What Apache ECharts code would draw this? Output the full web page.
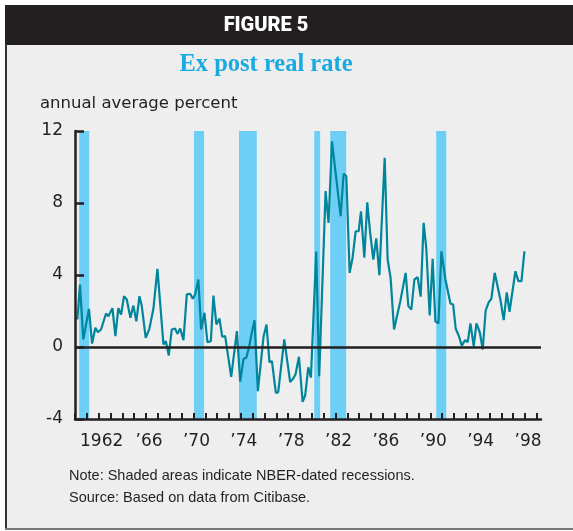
<!DOCTYPE html>
<html>
<head>
<meta charset="utf-8">
<script src="https://cdn.jsdelivr.net/npm/echarts@6/dist/echarts.min.js"></script>
<style>
  html, body { margin: 0; padding: 0; background: #fff; overflow: hidden; }
  #chart { width: 573px; height: 531px; }
</style>
</head>
<body>
<div id="chart"></div>
<script>
// quarterly ex post real rate (year, percent)
var rateYears = [
  1960.2, 1960.42, 1960.7, 1961.18, 1961.44, 1961.72, 1961.94, 1962.2, 1962.62, 1962.82,
  1962.96, 1963.16, 1963.41, 1963.66, 1963.89, 1964.14, 1964.37, 1964.68, 1964.93, 1965.18,
  1965.44, 1965.64, 1965.97, 1966.28, 1966.62, 1966.96, 1967.47, 1967.67, 1967.92, 1968.17,
  1968.45, 1968.65, 1968.88, 1969.16, 1969.44, 1969.72, 1969.95, 1970.14, 1970.42, 1970.65,
  1970.93, 1971.18, 1971.47, 1971.69, 1971.94, 1972.2, 1972.43, 1972.68, 1972.91, 1973.19,
  1973.67, 1973.95, 1974.23, 1974.46, 1974.7, 1974.93, 1975.16, 1975.44, 1975.92, 1976.17,
  1976.42, 1976.63, 1976.96, 1977.16, 1977.67, 1978.17, 1978.4, 1978.62, 1978.91, 1979.22,
  1979.44, 1979.7, 1979.92, 1980.37, 1980.62, 1981.16, 1981.41, 1981.7, 1982.43, 1982.68,
  1982.91, 1983.19, 1983.44, 1983.7, 1983.95, 1984.15, 1984.43, 1984.68, 1984.91, 1985.19,
  1985.44, 1985.7, 1986.15, 1986.4, 1986.65, 1986.94, 1987.47, 1987.92, 1988.15, 1988.4,
  1988.66, 1988.93, 1989.19, 1989.44, 1989.67, 1989.95, 1990.2, 1990.43, 1990.69, 1990.94,
  1991.28, 1991.7, 1991.93, 1992.15, 1992.4, 1992.66, 1992.94, 1993.16, 1993.39, 1993.67,
  1993.9, 1994.18, 1994.43, 1994.68, 1994.94, 1995.16, 1995.44, 1995.92, 1996.2, 1996.46,
  1996.69, 1997.19, 1997.44, 1997.7, 1997.95
];
var rateValues = [
  1.53, 3.47, 0.42, 2.12, 0.19, 1.07, 0.82, 0.97, 1.86, 1.71,
  1.75, 2.16, 0.6, 2.16, 1.8, 2.82, 2.64, 1.62, 2.3, 1.43,
  2.82, 2.27, 0.51, 1.01, 2.12, 4.34, 0.14, 0.32, -0.47, 0.97,
  1.03, 0.73, 1.03, 0.38, 2.92, 2.96, 2.68, 2.92, 3.75, 0.97,
  1.9, 0.27, 0.32, 2.86, 1.25, 1.58, 0.57, 0.6, -0.42, -1.66,
  0.88, -1.92, -0.66, -0.6, 0.0, 0.8, 1.49, -2.45, 0.57, 1.25,
  -0.84, -0.79, -2.55, -2.51, 0.42, -1.95, -1.77, -1.53, -0.54, -3.05,
  -2.68, -1.13, -1.7, 5.3, -1.62, 8.66, 6.9, 11.43, 7.27, 9.62,
  9.49, 4.12, 4.96, 6.43, 6.43, 7.54, 4.96, 8.04, 6.43, 4.86,
  6.03, 3.99, 10.51, 4.86, 3.84, 0.97, 2.54, 4.12, 2.27, 2.08,
  3.75, 3.88, 2.8, 6.9, 5.42, 1.75, 4.9, 1.43, 1.31, 5.32,
  3.75, 2.42, 2.36, 1.01, 0.64, 0.08, 0.38, 0.27, 1.31, 0.04,
  1.31, 0.82, -0.14, 2.04, 2.49, 2.68, 4.12, 2.64, 1.49, 3.04,
  1.96, 4.21, 3.66, 3.66, 5.32
];

// NBER recessions (shaded)
var recessionStarts = [1960.35, 1970.05, 1973.85, 1980.2, 1981.55, 1990.5];
var recessionEnds   = [1961.2, 1970.9, 1975.35, 1980.7, 1982.9, 1991.35];

var yTicks = [-4, 0, 4, 8, 12];
var xLabelYears = [1962, 1966, 1970, 1974, 1978, 1982, 1986, 1990, 1994, 1998];
var xTickYears = [];
for (var y = 1960; y <= 1999; y++) xTickYears.push(y);

var lineData = rateYears.map(function(yr, i){ return [yr, rateValues[i]]; });
var areas = recessionStarts.map(function(s, i){ return [{ xAxis: s }, { xAxis: recessionEnds[i] }]; });

var chart = echarts.init(document.getElementById('chart'));

var option = {
  backgroundColor: '#ffffff',
  animation: false,
  graphic: [
    { type: 'rect', z: -10, shape: { x: 6, y: 44, width: 600, height: 485 }, style: { fill: '#eeeeee' } },
    { type: 'rect', z: -9, shape: { x: 5, y: 5, width: 600, height: 40 }, style: { fill: '#231f20' } },
    { type: 'rect', z: -9, shape: { x: 5, y: 44, width: 2, height: 486 }, style: { fill: '#333333' } },
    { type: 'rect', z: -9, shape: { x: 5, y: 528, width: 600, height: 2 }, style: { fill: '#777777' } },
    { type: 'text', x: 266, y: 26, style: {
        text: 'FIGURE 5', fill: '#ffffff', font: '900 20px Roboto',
        textAlign: 'center', textVerticalAlign: 'middle' } },
    { type: 'text', x: 266, y: 65, style: {
        text: 'Ex post real rate', fill: '#1ba9e1', font: 'bold 24.5px "Liberation Serif"',
        textAlign: 'center', textVerticalAlign: 'middle' } },
    { type: 'text', x: 40, y: 104, style: {
        text: 'annual average percent', fill: '#231f20', font: '16.5px "DejaVu Sans"',
        textAlign: 'left', textVerticalAlign: 'middle' } },
    { type: 'text', x: 69, y: 476, style: {
        text: 'Note: Shaded areas indicate NBER-dated recessions.', fill: '#231f20',
        font: '14.5px "Liberation Sans"', textAlign: 'left', textVerticalAlign: 'middle' } },
    { type: 'text', x: 69, y: 498, style: {
        text: 'Source: Based on data from Citibase.', fill: '#231f20',
        font: '14.5px "Liberation Sans"', textAlign: 'left', textVerticalAlign: 'middle' } }
  ],
  grid: { left: 75, right: 32, top: 131, bottom: 112 },
  xAxis: {
    type: 'value',
    min: 1960,
    max: 1999.35,
    z: 10,
    axisLine: { show: true, onZero: false, lineStyle: { color: '#231f20', width: 2.5 } },
    axisTick: { show: true, inside: true, length: 6, customValues: xTickYears,
      lineStyle: { color: '#231f20', width: 2 } },
    axisLabel: {
      customValues: xLabelYears,
      margin: 14,
      padding: [0, 0, 0, 6],
      color: '#231f20',
      fontFamily: 'DejaVu Sans',
      fontSize: 17,
      formatter: function(v){
        return v === 1962 ? '1962' : '\u2019' + String(v).slice(2);
      }
    },
    splitLine: { show: false }
  },
  yAxis: {
    type: 'value',
    min: -4,
    max: 12,
    interval: 4,
    z: 10,
    axisLine: { show: true, lineStyle: { color: '#231f20', width: 2.5 } },
    axisTick: { show: true, inside: true, length: 9, lineStyle: { color: '#231f20', width: 2.5 } },
    axisLabel: {
      customValues: yTicks,
      margin: 12,
      color: '#231f20',
      fontFamily: 'DejaVu Sans',
      fontSize: 17
    },
    splitLine: { show: false }
  },
  series: [
    {
      name: 'recessions',
      type: 'line',
      data: [],
      silent: true,
      z: 1,
      markArea: {
        silent: true,
        itemStyle: { color: '#6dcff6' },
        data: areas
      }
    },
    {
      name: 'Ex post real rate',
      type: 'line',
      data: lineData,
      showSymbol: false,
      z: 3,
      lineStyle: { color: '#00869c', width: 2.2 },
      markLine: {
        silent: true,
        symbol: 'none',
        label: { show: false },
        lineStyle: { color: '#231f20', width: 2.5, type: 'solid' },
        data: [{ yAxis: 0 }]
      }
    }
  ]
};

chart.setOption(option);
</script>
</body>
</html>
